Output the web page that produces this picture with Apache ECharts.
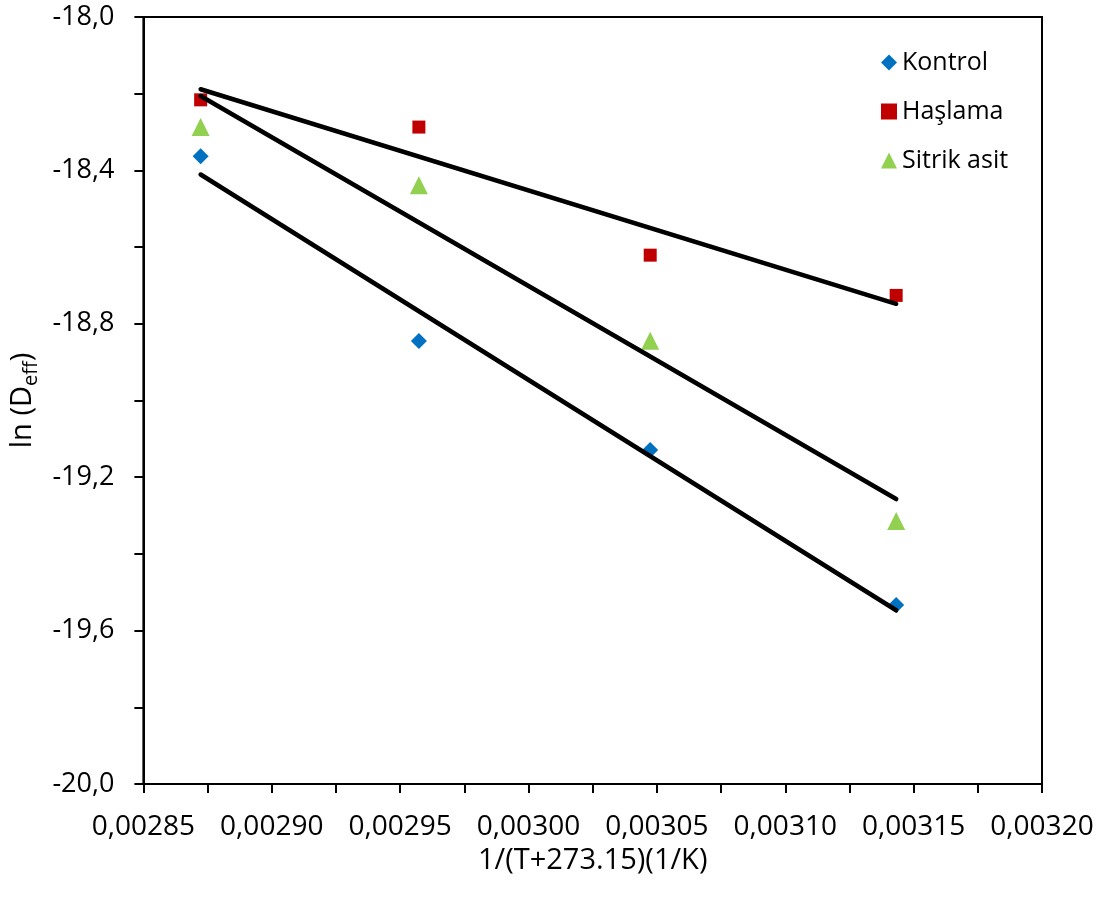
<!DOCTYPE html>
<html>
<head>
<meta charset="utf-8">
<script src="https://cdn.jsdelivr.net/npm/echarts@6/dist/echarts.min.js"></script>
<style>
  html, body { margin: 0; padding: 0; background: #fff; }
  #chart { width: 1108px; height: 904px; }
</style>
</head>
<body>
<div id="chart"></div>
<script>
// Reciprocal absolute temperature (1/K)
const invTemp = [0.0028723, 0.0029573, 0.0030474, 0.0031432];
// ln(Deff) per pre-treatment
const kontrol = [-18.363, -18.845, -19.129, -19.533];
const haslama = [-18.216, -18.287, -18.621, -18.726];
const sitrik = [-18.287, -18.439, -18.844, -19.314];

const seriesNames = ['Kontrol', 'Haşlama', 'Sitrik asit'];
const seriesColors = ['#0070C0', '#C00000', '#92D050'];
const seriesSymbols = ['diamond', 'rect', 'triangle'];
const symbolSizes = [[16, 16], [13, 13], [18, 18]];

// Least-squares linear fit, returned as its two end points over the x range
function linearFit(xs, ys) {
  const n = xs.length;
  const mx = xs.reduce((a, b) => a + b, 0) / n;
  const my = ys.reduce((a, b) => a + b, 0) / n;
  let sxy = 0, sxx = 0;
  for (let i = 0; i < n; i++) {
    sxy += (xs[i] - mx) * (ys[i] - my);
    sxx += (xs[i] - mx) * (xs[i] - mx);
  }
  const b = sxy / sxx;
  const a = my - b * mx;
  const x0 = Math.min(...xs), x1 = Math.max(...xs);
  return [[x0, a + b * x0], [x1, a + b * x1]];
}

const FONT = '"Open Sans", sans-serif';
const groups = [kontrol, haslama, sitrik];

const scatterSeries = groups.map((ys, i) => ({
  name: seriesNames[i],
  type: 'scatter',
  symbol: seriesSymbols[i],
  symbolSize: symbolSizes[i],
  itemStyle: { color: seriesColors[i], opacity: 1 },
  data: invTemp.map((x, j) => [x, ys[j]]),
  z: 2
}));

const fitSeries = groups.map((ys, i) => ({
  name: seriesNames[i] + ' fit',
  type: 'line',
  showSymbol: false,
  symbol: 'none',
  lineStyle: { color: '#000', width: 4.5, cap: 'round' },
  data: linearFit(invTemp, ys),
  silent: true,
  z: 3
}));

const chart = echarts.init(document.getElementById('chart'), null, { renderer: 'canvas' });
chart.setOption({
  animation: false,
  backgroundColor: '#fff',
  grid: {
    left: 142, right: 66, top: 17, bottom: 120,
    show: true, borderColor: '#000', borderWidth: 2
  },
  legend: {
    orient: 'vertical',
    left: 876, top: 45,
    itemWidth: 16, itemHeight: 16,
    itemGap: 24,
    data: seriesNames,
    textStyle: { fontFamily: FONT, fontSize: 25, color: '#000', lineHeight: 24 }
  },
  xAxis: {
    type: 'value',
    min: 0.00285, max: 0.0032, interval: 0.00005,
    name: '1/(T+273.15)(1/K)',
    nameLocation: 'middle',
    nameGap: 57,
    nameTextStyle: { fontFamily: FONT, fontSize: 29, color: '#000' },
    axisLine: { show: true, onZero: false, lineStyle: { color: '#000', width: 2 } },
    axisTick: { show: true, length: 9, lineStyle: { color: '#000', width: 2 } },
    minorTick: { show: true, splitNumber: 2, length: 9, lineStyle: { color: '#000', width: 2 } },
    splitLine: { show: false },
    axisLabel: {
      fontFamily: FONT, fontSize: 28, color: '#000', margin: 29,
      formatter: v => v.toFixed(5).replace('.', ',')
    }
  },
  yAxis: {
    type: 'value',
    min: -20, max: -18, interval: 0.4,
    name: '{a|ln (D}{b|eff}{a|)}',
    nameLocation: 'middle',
    nameRotate: 90,
    nameGap: 94,
    nameTextStyle: {
      color: '#000',
      rich: {
        a: { fontFamily: FONT, fontSize: 29, color: '#000', lineHeight: 38, verticalAlign: 'middle' },
        b: { fontFamily: FONT, fontSize: 20, color: '#000', lineHeight: 38, verticalAlign: 'bottom' }
      }
    },
    axisLine: { show: true, onZero: false, lineStyle: { color: '#000', width: 2 } },
    axisTick: { show: true, length: 9, lineStyle: { color: '#000', width: 2 } },
    minorTick: { show: true, splitNumber: 2, length: 9, lineStyle: { color: '#000', width: 2 } },
    splitLine: { show: false },
    axisLabel: {
      fontFamily: FONT, fontSize: 27, color: '#000', margin: 29,
      formatter: v => v.toFixed(1).replace('.', ',')
    }
  },
  series: scatterSeries.concat(fitSeries)
});
</script>
</body>
</html>
